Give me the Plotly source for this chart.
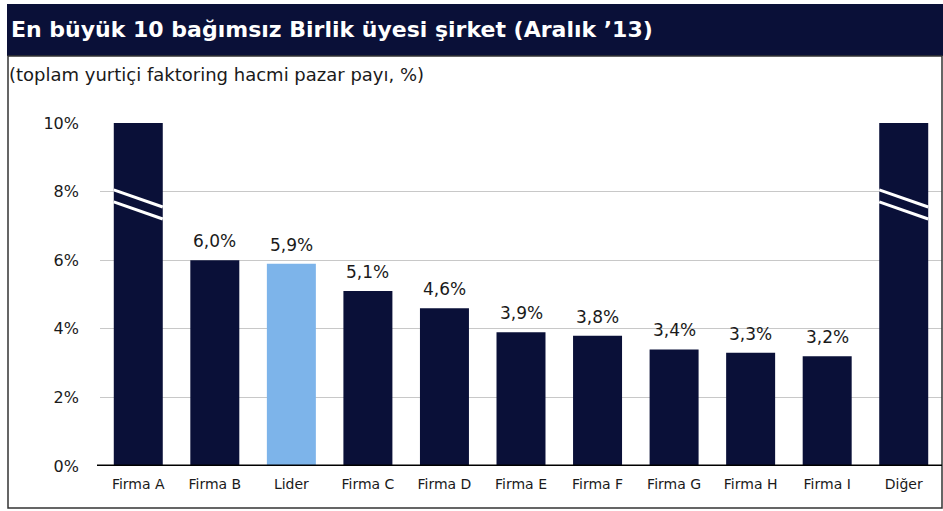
import plotly.graph_objects as go

categories = ["Firma A", "Firma B", "Lider", "Firma C", "Firma D", "Firma E",
              "Firma F", "Firma G", "Firma H", "Firma I", "Diğer"]
values = [10.0, 6.0, 5.9, 5.1, 4.6, 3.9, 3.8, 3.4, 3.3, 3.2, 10.0]
labels = ["", "6,0%", "5,9%", "5,1%", "4,6%", "3,9%", "3,8%", "3,4%", "3,3%", "3,2%", ""]
broken = ["Firma A", "Diğer"]
highlight = "Lider"
ytickvals = [0, 2, 4, 6, 8, 10]
yticktext = ["0%", "2%", "4%", "6%", "8%", "10%"]
title = "En büyük 10 bağımsız Birlik üyesi şirket (Aralık ’13)"
subtitle = "(toplam yurtiçi faktoring hacmi pazar payı, %)"

NAVY = "#0a1038"
LIGHT = "#7db4ea"
TXT = "#1a1a1a"
FONT = "DejaVu Sans, Verdana, Arial"
colors = [LIGHT if c == highlight else NAVY for c in categories]

W, H = 943, 511
L, R, T, B = 100, 1, 123, 45
pw, ph = W - L - R, H - T - B

def px(x):
    return (x - L) / pw

def py(y):
    return (H - B - y) / ph

fig = go.Figure()
fig.add_trace(go.Bar(
    x=categories, y=values, marker=dict(color=colors, line=dict(width=0)),
    width=0.64, hoverinfo="skip",
))

shapes = []
# break marks on capped bars
for c in broken:
    i = categories.index(c)
    for (ya, yb) in [(8.05, 7.55), (7.7, 7.2)]:
        shapes.append(dict(type="line", xref="x", yref="y",
                           x0=i - 0.32, x1=i + 0.32, y0=ya, y1=yb,
                           line=dict(color="white", width=3)))
# title bar
shapes.append(dict(type="rect", xref="paper", yref="paper",
                   x0=px(7), x1=px(943), y0=py(56), y1=py(4),
                   fillcolor=NAVY, line=dict(width=0), layer="below"))
# frame
shapes.append(dict(type="rect", xref="paper", yref="paper",
                   x0=px(8), x1=px(942), y0=py(508), y1=py(56),
                   fillcolor="rgba(0,0,0,0)", line=dict(color="#333333", width=1.5)))
# baseline
shapes.append(dict(type="line", xref="paper", yref="y",
                   x0=px(97), x1=1, y0=0, y1=0,
                   line=dict(color="black", width=3)))

annotations = [
    dict(text=f"<b>{title}</b>", xref="paper", yref="paper",
         x=px(9), y=py(30), xanchor="left", yanchor="middle", showarrow=False,
         font=dict(family=FONT, size=22, color="white")),
    dict(text=subtitle, xref="paper", yref="paper",
         x=px(7), y=py(75), xanchor="left", yanchor="middle", showarrow=False,
         font=dict(family=FONT, size=18, color=TXT)),
]
for c, v, t in zip(categories, values, labels):
    if t:
        annotations.append(dict(text=t, x=c, y=v, xref="x", yref="y",
                                yshift=19, yanchor="middle", showarrow=False,
                                font=dict(family=FONT, size=17, color=TXT)))

fig.update_layout(
    width=W, height=H, margin=dict(l=L, r=R, t=T, b=B),
    paper_bgcolor="white", plot_bgcolor="white",
    showlegend=False, bargap=0.36,
    shapes=shapes, annotations=annotations,
    xaxis=dict(type="category", showgrid=False, showline=False, ticks="",
               tickfont=dict(family=FONT, size=14, color=TXT),
               ticklabelstandoff=8, fixedrange=True),
    yaxis=dict(range=[0, 10], tickvals=ytickvals, ticktext=yticktext,
               showgrid=True, gridcolor="#c8c8c8", gridwidth=1,
               zeroline=False, showline=False, ticks="", ticklen=0,
               tickfont=dict(family=FONT, size=16, color=TXT),
               ticklabelstandoff=20, fixedrange=True),
)

fig.write_html("out.html", config={"displayModeBar": False},
               post_script="document.body.style.margin='0';document.body.style.overflow='hidden';")
